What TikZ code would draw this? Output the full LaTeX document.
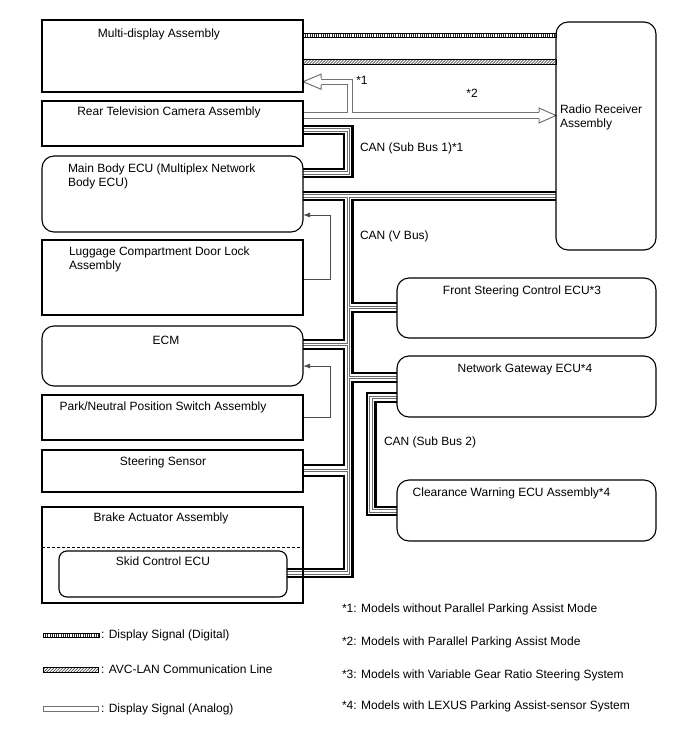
\documentclass[tikz,border=0pt]{standalone}
\usepackage{fontspec}
\setmainfont{Liberation Sans}
\usetikzlibrary{arrows.meta,calc}
\pgfdeclarelayer{bg}
\pgfsetlayers{bg,main}
\begin{document}
\begin{tikzpicture}[x=1pt,y=-1pt,
  every node/.style={inner sep=0pt, outer sep=0pt, font=\fontsize{12}{14}\selectfont},
  box/.style={draw, line width=1.1pt, minimum width=261pt},
  rbox/.style={box, rounded corners=12pt},
  txt/.style={anchor=base},
  ltxt/.style={anchor=base west},
  blk/.style={line width=2.2pt},
  gryo/.style={line width=3.8pt, draw=black!58},
  gryi/.style={line width=1.8pt, draw=white},
  holo/.style={line width=6.4pt, draw=black!55},
  holi/.style={line width=4.4pt, draw=white},
  headline/.style={line width=1pt, draw=black!55},
  sig/.style={line width=0.9pt, draw=black!70},
  digi/.style={line width=4pt, draw=black!85, dash pattern=on 0.9pt off 1.3pt},
  hatch/.style={line width=0.55pt, draw=black!85},
  band/.style={line width=0.5pt}
]
\useasboundingbox (0,0) rectangle (688,755);

% ---------- boxes ----------
\node[box, minimum height=72pt] (md) at (172.5,56) {};
\node[box, minimum height=45pt] (rtv) at (172.5,123.5) {};
\node[rbox, minimum height=76pt] (mb) at (172.5,194) {};
\node[box, minimum height=75pt] (lug) at (172.5,277.5) {};
\node[rbox, minimum height=60pt] (ecm) at (172.5,356) {};
\node[box, minimum height=45pt] (pn) at (172.5,417.5) {};
\node[box, minimum height=42pt] (ss) at (172.5,471) {};
\node[box, minimum height=96pt] (ba) at (172.5,555) {};
\node[rbox, rounded corners=8pt, minimum width=228pt, minimum height=46pt] (sc) at (173,574) {};
\node[rbox, minimum width=100pt, minimum height=228pt] (rr) at (606,136) {};
\node[rbox, minimum width=259pt, minimum height=60pt] (fs) at (526.5,308) {};
\node[rbox, minimum width=259pt, minimum height=61pt] (ng) at (526.5,386.5) {};
\node[rbox, minimum width=259pt, minimum height=61pt] (cw) at (526.5,510.5) {};
\draw[line width=1pt, dash pattern=on 3pt off 2pt] (ba.west|-0,547) -- (ba.east|-0,547);

% ---------- box texts ----------
\node[txt] (mdt) at (159,37.3) {Multi-display Assembly};
\node[txt] (rtvt) at (169,115) {Rear Television Camera Assembly};
\node[ltxt] (mbt1) at (68,172.3) {Main Body ECU (Multiplex Network};
\node[ltxt] (mbt2) at (68,186.3) {Body ECU)};
\node[ltxt] (lugt1) at (69,255) {Luggage Compartment Door Lock};
\node[ltxt] (lugt2) at (69,269) {Assembly};
\node[txt] (ecmt) at (166,344) {ECM};
\node[txt] (pnt) at (163,410) {Park/Neutral Position Switch Assembly};
\node[txt] (sst) at (163,465) {Steering Sensor};
\node[txt] (bat) at (161,521) {Brake Actuator Assembly};
\node[txt] (sct) at (163,565.5) {Skid Control ECU};
\node[ltxt] (rrt1) at (560,113.5) {Radio Receiver};
\node[ltxt] (rrt2) at (560,127.5) {Assembly};
\node[txt] (fst) at (522,294.5) {Front Steering Control ECU*3};
\node[txt] (ngt) at (525,372.5) {Network Gateway ECU*4};
\node[txt] (cwt) at (511.5,496) {Clearance Warning ECU Assembly*4};

% ---------- line labels ----------
\node[ltxt] (can1) at (360,151) {CAN (Sub Bus 1)*1};
\node[ltxt] (canv) at (360,239) {CAN (V Bus)};
\node[ltxt] (can2) at (384,445) {CAN (Sub Bus 2)};
\node[txt] (s1) at (362,84) {*1};
\node[txt] (s2) at (472,97) {*2};

% ---------- footnotes ----------
\node[ltxt] (f1) at (342,612) {*1: Models without Parallel Parking Assist Mode};
\node[ltxt] (f2) at (342,645) {*2: Models with Parallel Parking Assist Mode};
\node[ltxt] (f3) at (342,678) {*3: Models with Variable Gear Ratio Steering System};
\node[ltxt] (f4) at (342,709) {*4: Models with LEXUS Parking Assist-sensor System};

% ---------- legend ----------
\coordinate (lg1a) at (43,635); \coordinate (lg1b) at (99,635);
\coordinate (lg2a) at (43,670); \coordinate (lg2b) at (98,670);
\coordinate (lg3a) at (43,709); \coordinate (lg3b) at (98,709);
\node[ltxt] (lt1) at (101,638) {: Display Signal (Digital)};
\node[ltxt] (lt2) at (101,673) {: AVC-LAN Communication Line};
\node[ltxt] (lt3) at (101,712) {: Display Signal (Analog)};

\begin{pgfonlayer}{bg}
% digital signal lines
\draw[digi] (md.east|-0,35) -- (rr.west|-0,35);
\draw[band] ($(md.east|-0,35)+(0,-2)$) rectangle ($(rr.west|-0,35)+(0,2)$);
\draw[digi] (lg1a) -- (lg1b);
\draw[band] ($(lg1a)+(0,-2)$) rectangle ($(lg1b)+(0,2)$);
% AVC-LAN lines
\begin{scope}
\clip ($(md.east|-0,61.7)+(0,-2.3)$) rectangle ($(rr.west|-0,61.7)+(0,2.3)$);
\foreach \i in {0,3,...,258} \draw[hatch] ({300+\i},64.5) -- ({305.5+\i},59);
\end{scope}
\draw[band] ($(md.east|-0,61.7)+(0,-2.3)$) rectangle ($(rr.west|-0,61.7)+(0,2.3)$);
\begin{scope}
\clip ($(lg2a)+(0,-2.3)$) rectangle ($(lg2b)+(0,2.3)$);
\foreach \i in {0,3,...,60} \draw[hatch] ({40+\i},672.8) -- ({45.5+\i},667.3);
\end{scope}
\draw[band] ($(lg2a)+(0,-2.3)$) rectangle ($(lg2b)+(0,2.3)$);

% analog (hollow) signal lines
\foreach \st in {holo,holi} {
  \draw[\st] (rtv.east|-0,115.5) -- ($(rr.west|-0,115.5)+(-17,0)$);
  \draw[\st] (rtv.east|-0,115.5) -- (350,115.5) -- (350,81.7) -- ($(md.east|-0,81.7)+(18,0)$);
}
\draw[headline] ($(lg3a)+(0,-2.2)$) rectangle ($(lg3b)+(0,2.2)$);
\fill[white] ($(md.east|-0,81.7)+(18,-7.5)$) -- (md.east|-0,81.7) -- ($(md.east|-0,81.7)+(18,7.5)$) -- cycle;
\draw[headline] ($(md.east|-0,81.7)+(18,-3.2)$) -- ($(md.east|-0,81.7)+(18,-7.5)$) -- (md.east|-0,81.7) -- ($(md.east|-0,81.7)+(18,7.5)$) -- ($(md.east|-0,81.7)+(18,3.2)$);
\fill[white] ($(rr.west|-0,115.5)+(-17,-7.5)$) -- (rr.west|-0,115.5) -- ($(rr.west|-0,115.5)+(-17,7.5)$) -- cycle;
\draw[headline] ($(rr.west|-0,115.5)+(-17,-3.2)$) -- ($(rr.west|-0,115.5)+(-17,-7.5)$) -- (rr.west|-0,115.5) -- ($(rr.west|-0,115.5)+(-17,7.5)$) -- ($(rr.west|-0,115.5)+(-17,3.2)$);

% CAN buses: hollow (gray) wires
\foreach \st in {gryo,gryi} {
  \draw[\st] (mb.east|-0,196) -- (rr.west|-0,196);
  \draw[\st] (348.5,196) -- (348.5,573) -- (sc.east|-0,573);
  \draw[\st] (348.5,307.5) -- (fs.west|-0,307.5);
  \draw[\st] (348.5,377.5) -- (ng.west|-0,377.5);
  \draw[\st] (ecm.east|-0,344.5) -- (348.5,344.5);
  \draw[\st] (ss.east|-0,470.5) -- (348.5,470.5);
  \draw[\st] (rtv.east|-0,130) -- (348.5,130) -- (348.5,173) -- (mb.east|-0,173);
  \draw[\st] (ng.west|-0,397.5) -- (371.2,397.5) -- (371.2,511) -- (cw.west|-0,511);
}
% CAN buses: black wires
\draw[blk] (mb.east|-0,192) -- (rr.west|-0,192);
\draw[blk] (mb.east|-0,200) -- (344,200) -- (344,340) -- (ecm.east|-0,340);
\draw[blk] (ecm.east|-0,349) -- (344,349) -- (344,465) -- (ss.east|-0,465);
\draw[blk] (ss.east|-0,476) -- (344,476) -- (344,569) -- (sc.east|-0,569);
\draw[blk] (rr.west|-0,200) -- (352.5,200) -- (352.5,303) -- (fs.west|-0,303);
\draw[blk] (fs.west|-0,312) -- (352.5,312) -- (352.5,373) -- (ng.west|-0,373);
\draw[blk] (ng.west|-0,382) -- (352.5,382) -- (352.5,577) -- (sc.east|-0,577);
\draw[blk] (rtv.east|-0,126) -- (352.5,126) -- (352.5,177) -- (mb.east|-0,177);
\draw[blk] (rtv.east|-0,134) -- (344,134) -- (344,169) -- (mb.east|-0,169);
\draw[blk] (ng.west|-0,393) -- (367,393) -- (367,515) -- (cw.west|-0,515);
\draw[blk] (ng.west|-0,402) -- (375.5,402) -- (375.5,507) -- (cw.west|-0,507);

% thin signal arrows
\draw[sig, -{Latex[length=7pt,width=5pt]}] (lug.east|-0,279) -- (330,279) -- (330,215) -- (mb.east|-0,215);
\draw[sig, -{Latex[length=7pt,width=5pt]}] (pn.east|-0,417) -- (330,417) -- (330,366) -- (ecm.east|-0,366);
\end{pgfonlayer}
\end{tikzpicture}
\end{document}
